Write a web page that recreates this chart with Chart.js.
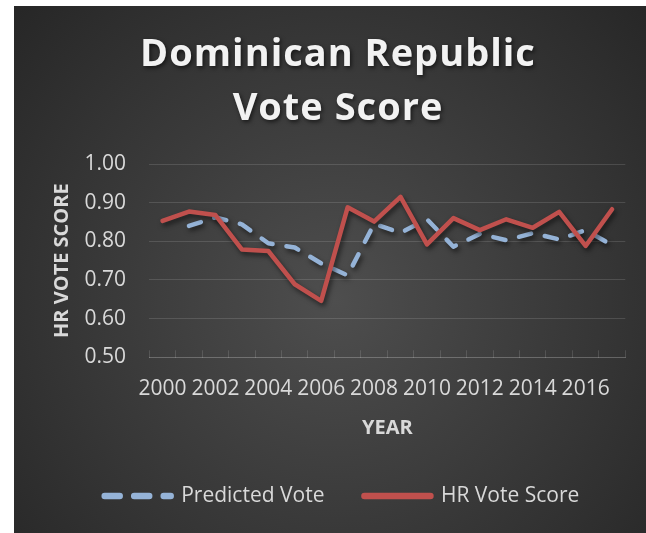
<!DOCTYPE html>
<html>
<head>
<meta charset="utf-8">
<script src="https://cdn.jsdelivr.net/npm/chart.js@4"></script>
<style>
    html, body { margin: 0; padding: 0; background: #ffffff; }
    canvas { display: block; }
</style>
</head>
<body>
<canvas id="vote-chart" width="646" height="533"></canvas>
<script>
// Dominican Republic vote score by year
const years = ['2000', '2001', '2002', '2003', '2004', '2005', '2006', '2007', '2008',
    '2009', '2010', '2011', '2012', '2013', '2014', '2015', '2016', '2017'];
const predictedVote = [null, 0.840, 0.862, 0.844, 0.795, 0.784, 0.743, 0.712, 0.845,
    0.822, 0.857, 0.786, 0.819, 0.803, 0.821, 0.805, 0.829, 0.790];
const hrVoteScore = [0.853, 0.877, 0.868, 0.779, 0.775, 0.689, 0.646, 0.888, 0.851,
    0.915, 0.792, 0.860, 0.829, 0.857, 0.835, 0.876, 0.788, 0.883];
const yTicks = [0.5, 0.6, 0.7, 0.8, 0.9, 1.0];

const FONT = "'Open Sans', 'Noto Sans', sans-serif";
const LABEL_COLOR = '#d9d9d9';
const GRID_COLOR = 'rgba(255,255,255,0.13)';

// dark radial panel behind everything
const panelBackground = {
    id: 'panelBackground',
    beforeDraw(chart) {
        const ctx = chart.ctx;
        ctx.save();
        ctx.fillStyle = '#ffffff';
        ctx.fillRect(0, 0, chart.width, chart.height);
        const grad = ctx.createRadialGradient(335, 300, 0, 335, 300, 440);
        grad.addColorStop(0, '#4e4e4e');
        grad.addColorStop(1, '#262626');
        ctx.fillStyle = grad;
        ctx.fillRect(14, 6, chart.width - 14, chart.height - 6);
        ctx.restore();
    }
};

// soft drop shadow under each line
const lineShadow = {
    id: 'lineShadow',
    beforeDatasetDraw(chart) {
        const ctx = chart.ctx;
        ctx.save();
        ctx.shadowColor = 'rgba(0,0,0,0.55)';
        ctx.shadowBlur = 5;
        ctx.shadowOffsetX = 2;
        ctx.shadowOffsetY = 3;
    },
    afterDatasetDraw(chart) {
        chart.ctx.restore();
    }
};

// nudge the legend row a little to the right
const legendNudge = {
    id: 'legendNudge',
    afterLayout(chart) {
        if (chart.legend) {
            chart.legend.left += 4;
            chart.legend.right += 4;
        }
    }
};

const ctx = document.getElementById('vote-chart');

const chart = new Chart(ctx, {
    type: 'line',
    data: {
        labels: years,
        datasets: [{
            label: 'Predicted Vote',
            data: predictedVote,
            borderColor: '#95b3d7',
            backgroundColor: '#95b3d7',
            borderWidth: 4.5,
            borderDash: [12.5, 14],
            borderCapStyle: 'round',
            borderJoinStyle: 'round',
            pointRadius: 0,
            tension: 0,
            order: 1
        }, {
            label: 'HR Vote Score',
            data: hrVoteScore,
            borderColor: '#c0504d',
            backgroundColor: '#c0504d',
            borderWidth: 4.5,
            borderCapStyle: 'round',
            borderJoinStyle: 'round',
            pointRadius: 0,
            tension: 0,
            order: 0
        }]
    },
    options: {
        responsive: false,
        animation: false,
        layout: {
            padding: { left: 50.7, right: 20.7, top: 0, bottom: 16.5 }
        },
        scales: {
            x: {
                offset: true,
                grid: {
                    offset: true,
                    drawOnChartArea: false,
                    drawTicks: true,
                    tickLength: -7,
                    color: GRID_COLOR,
                    lineWidth: 1
                },
                border: { display: true, color: GRID_COLOR, width: 1 },
                ticks: {
                    autoSkip: false,
                    maxRotation: 0,
                    minRotation: 0,
                    padding: 26,
                    color: LABEL_COLOR,
                    font: { family: FONT, size: 21 },
                    callback: function(value, index) {
                        return index % 2 === 0 ? years[index] : '';
                    }
                },
                title: {
                    display: true,
                    text: 'YEAR',
                    color: LABEL_COLOR,
                    font: { family: FONT, size: 20, weight: 'bold' },
                    padding: { top: 0, bottom: 5 }
                },
                afterFit(scale) {
                    scale.height = 88.2;
                }
            },
            y: {
                min: 0.5,
                max: 1.0,
                afterBuildTicks(scale) {
                    scale.ticks = yTicks.map(v => ({ value: v }));
                },
                grid: {
                    drawTicks: false,
                    color: GRID_COLOR,
                    lineWidth: 1
                },
                border: { display: false },
                ticks: {
                    padding: 23.3,
                    color: LABEL_COLOR,
                    font: { family: FONT, size: 21 },
                    callback: value => Number(value).toFixed(2)
                },
                title: {
                    display: true,
                    text: 'HR VOTE SCORE',
                    color: LABEL_COLOR,
                    font: { family: FONT, size: 20, weight: 'bold' },
                    padding: { top: 0, bottom: 0 }
                },
                afterFit(scale) {
                    scale.width = 98.6;
                }
            }
        },
        plugins: {
            title: {
                display: true,
                text: ['Dominican Republic', 'Vote Score'],
                color: '#f2f2f2',
                font: { family: FONT, size: 38, weight: 'bold', lineHeight: 54 / 38 },
                padding: { top: 28, bottom: 28 }
            },
            legend: {
                position: 'bottom',
                labels: {
                    color: LABEL_COLOR,
                    font: { family: FONT, size: 21 },
                    padding: 40,
                    usePointStyle: true,
                    pointStyle: 'line',
                    pointStyleWidth: 66,
                    sort: (a, b) => a.datasetIndex - b.datasetIndex,
                    generateLabels(chart) {
                        const items = Chart.defaults.plugins.legend.labels.generateLabels(chart);
                        items.forEach(item => {
                            item.lineWidth = 6.5;
                            item.lineCap = 'round';
                            item.lineDash = item.datasetIndex === 0 ? [15, 14.5] : [];
                        });
                        return items;
                    }
                }
            },
            tooltip: { enabled: false }
        }
    },
    plugins: [panelBackground, lineShadow, legendNudge]
});

// give the chart title a dark shadow and a little tracking
const titleBlock = chart.titleBlock;
const drawTitle = titleBlock.draw.bind(titleBlock);
titleBlock.draw = function() {
    const c = chart.ctx;
    c.save();
    c.shadowColor = 'rgba(0,0,0,0.6)';
    c.shadowBlur = 4;
    c.shadowOffsetX = 1.5;
    c.shadowOffsetY = 2;
    c.letterSpacing = '1px';
    drawTitle();
    c.restore();
};
chart.draw();
</script>
</body>
</html>
